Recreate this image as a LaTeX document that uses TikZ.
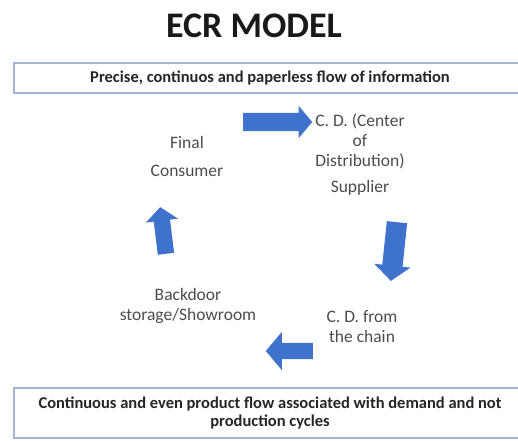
\documentclass[tikz,border=0pt]{standalone}
\usepackage{fontspec}
\setmainfont{Carlito}
\usetikzlibrary{shapes.arrows}
\definecolor{ecrblue}{RGB}{62,114,204}
\definecolor{bandline}{RGB}{165,180,212}

\begin{document}
\begin{tikzpicture}[
		x=1pt,y=-1pt,
		heading/.style={
			font=\fontsize{36}{40}\selectfont\bfseries,
			text=black!90
		},
		band/.style={
			draw=bandline,
			line width=1.2pt,
			fill=white,
			minimum width=512pt,
			inner sep=2pt,
			align=center,
			font=\fontsize{16.5}{18}\selectfont\bfseries,
			text=black!85
		},
		stage/.style={
			align=center,
			font=\fontsize{17.5}{20}\selectfont,
			text=black!70
		},
		flow/.style={
			single arrow,
			fill=ecrblue,
			draw=none,
			inner xsep=0pt,
			single arrow tip angle=100,
			anchor=tail
		}
		]
		\useasboundingbox (0,0) rectangle (518,440);
		\node[heading] (title) at (254,26) {ECR MODEL};
		\node[band,minimum height=30pt] (info) at (270,78) {Precise, continuos and paperless flow of information};
		\node[band,minimum height=50pt] (product) at (270,413) {Continuous and even product flow associated with demand and not\\production cycles};
		\node[stage] (consumer) at (187,156) {Final\\[8pt]Consumer};
		\node[stage] (supplier) at (360,155) {C. D. (Center\\of\\Distribution)\\[6pt]Supplier};
		\node[stage] (chain) at (362,327) {C. D. from\\the chain};
		\node[stage] (backdoor) at (188,306) {Backdoor\\storage/Showroom};
		\foreach \px/\py/\ang/\len/\bw/\hx [count=\i] in {243/122/0/69/9/7,397/222/-96/59/10/8,313/351/180/47/8/11,166/254/97/47/8/8}
			\node[flow,rotate=\ang,minimum height=\len,inner ysep=\bw,single arrow head extend=\hx] (flow\i) at (\px,\py) {};
	\end{tikzpicture}
\end{document}
